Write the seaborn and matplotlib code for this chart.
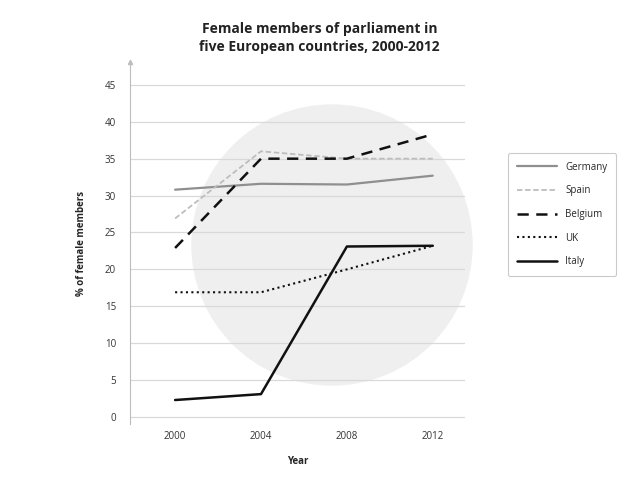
import pandas as pd
import seaborn as sns
import matplotlib.pyplot as plt
from matplotlib.patches import Ellipse

# Data
years = [2000, 2004, 2008, 2012]
germany = [30.8, 31.6, 31.5, 32.7]
spain = [26.9, 36.0, 35.0, 35.0]
belgium = [22.9, 35.0, 35.0, 38.3]
uk = [16.9, 16.9, 20.0, 23.2]
italy = [2.3, 3.1, 23.1, 23.2]
countries = ['Germany', 'Spain', 'Belgium', 'UK', 'Italy']
y_ticks = [0, 5, 10, 15, 20, 25, 30, 35, 40, 45]

df = pd.DataFrame({
    'Year': years * 5,
    'Pct': germany + spain + belgium + uk + italy,
    'Country': [c for c in countries for _ in years],
})

# line styles per country
styles = {
    'Germany': dict(color='#8f8f8f', lw=1.6, ls='-'),
    'Spain': dict(color='#bdbdbd', lw=1.3, ls=(0, (3, 1.5))),
    'Belgium': dict(color='#111111', lw=1.8, ls=(0, (4.5, 3))),
    'UK': dict(color='#111111', lw=1.5, ls=(0, (1, 1.6))),
    'Italy': dict(color='#111111', lw=1.8, ls='-'),
}

sns.set_style('white')
plt.rcParams['font.family'] = ['Open Sans', 'DejaVu Sans']

fig = plt.figure(figsize=(6.43, 4.78), dpi=100)

# faint round background mark
fig.patches.append(Ellipse((332 / 643, 1 - 245 / 478), 280 / 643, 280 / 478,
                           transform=fig.transFigure, color='#efefef', zorder=0))

ax = fig.add_axes([130 / 643, 1 - 424 / 478, 335 / 643, 362 / 478])
ax.set_zorder(2)
ax.patch.set_alpha(0)

for c in countries:
    s = styles[c]
    sns.lineplot(data=df[df['Country'] == c], x='Year', y='Pct', ax=ax,
                 color=s['color'], linewidth=s['lw'], linestyle=s['ls'],
                 label=c, zorder=3)

ax.set_xlim(1997.9, 2013.5)
ax.set_ylim(-0.95, 48.1)
ax.set_xticks(years)
ax.set_yticks(y_ticks)
ax.yaxis.grid(True, color='#d9d9d9', lw=0.9)
ax.set_axisbelow(True)

for sp in ['top', 'right', 'bottom']:
    ax.spines[sp].set_visible(False)
ax.spines['left'].set_color('#bdbdbd')
ax.spines['left'].set_linewidth(0.8)
ax.plot(0, 1, marker='^', ms=3, color='#bdbdbd', transform=ax.transAxes, clip_on=False)

ax.tick_params(axis='x', direction='in', length=5, width=0.8, color='#bdbdbd',
               labelsize=7, labelcolor='#333333', pad=5)
ax.tick_params(axis='y', length=0, labelsize=7, labelcolor='#333333', pad=10)

ax.set_xlabel('Year', fontsize=7, fontweight='bold', labelpad=10)
ax.set_ylabel('% of female members', fontsize=7, fontweight='bold', labelpad=13)

fig.text(0.497, 1 - 38 / 478, 'Female members of parliament in\nfive European countries, 2000-2012',
         ha='center', va='center', fontsize=10, fontweight='bold', linespacing=1.4,
         color='#222222')

leg = ax.legend(loc='upper left', bbox_to_anchor=(508 / 643, 1 - 153 / 478),
                bbox_transform=fig.transFigure, frameon=True, fontsize=7,
                handlelength=4.1, labelspacing=1.3, borderpad=0.9, handletextpad=0.9,
                borderaxespad=0, fancybox=True)
leg.get_frame().set_edgecolor('#bdbdbd')
leg.get_frame().set_linewidth(0.8)

plt.savefig('out.png', dpi=100)
